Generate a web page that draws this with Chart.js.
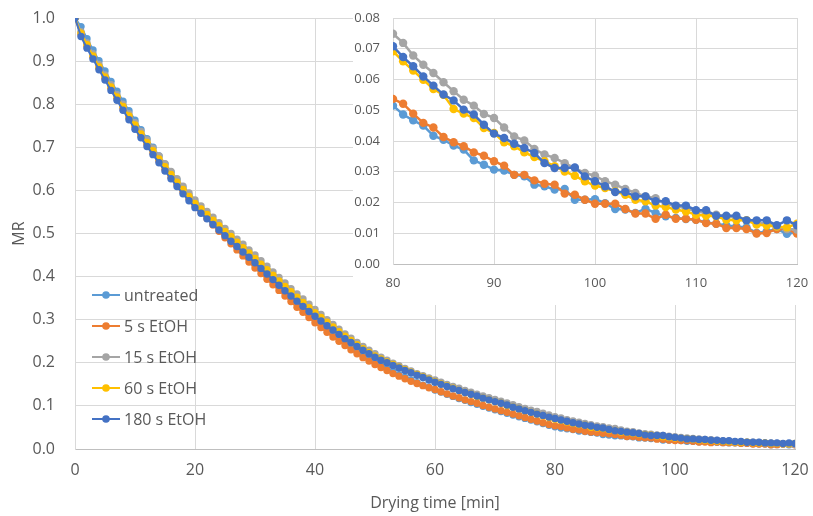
<!DOCTYPE html>
<html><head><meta charset="utf-8">
<script src="https://cdn.jsdelivr.net/npm/chart.js@4.4.0/dist/chart.umd.min.js"></script>
<style>
html,body{margin:0;padding:0;background:#fff;}
#wrap{position:relative;width:813px;height:516px;overflow:hidden;}
#main{position:absolute;left:0;top:0;width:813px;height:516px;}
#insetBox{position:absolute;left:353px;top:0;width:460px;height:305px;background:#fff;}
#inset{width:460px;height:305px;}
</style></head><body>
<div id="wrap">
<canvas id="main" width="813" height="516"></canvas>
<div id="insetBox"><canvas id="inset" width="460" height="305"></canvas></div>
</div>
<script>
const minutes = [0,1,2,3,4,5,6,7,8,9,10,11,12,13,14,15,16,17,18,19,20,21,22,23,24,25,26,27,28,29,30,31,32,33,34,35,36,37,38,39,40,41,42,43,44,45,46,47,48,49,50,51,52,53,54,55,56,57,58,59,60,61,62,63,64,65,66,67,68,69,70,71,72,73,74,75,76,77,78,79,80,81,82,83,84,85,86,87,88,89,90,91,92,93,94,95,96,97,98,99,100,101,102,103,104,105,106,107,108,109,110,111,112,113,114,115,116,117,118,119,120];

const seriesNames = ['untreated','5 s EtOH','15 s EtOH','60 s EtOH','180 s EtOH'];
const seriesColors = ['#5B9BD5','#ED7D31','#A5A5A5','#FFC000','#4472C4'];

const untreated = [
1.000,0.980,0.952,0.926,0.901,0.877,0.853,0.830,0.807,0.785,
0.763,0.741,0.720,0.700,0.680,0.661,0.642,0.624,0.606,0.589,
0.572,0.556,0.541,0.526,0.511,0.497,0.483,0.469,0.456,0.442,
0.429,0.416,0.403,0.390,0.377,0.364,0.351,0.339,0.326,0.314,
0.302,0.290,0.279,0.268,0.257,0.247,0.237,0.228,0.219,0.210,
0.202,0.194,0.186,0.179,0.172,0.166,0.160,0.154,0.148,0.143,
0.137,0.132,0.127,0.122,0.117,0.113,0.108,0.104,0.099,0.095,
0.091,0.087,0.083,0.079,0.075,0.071,0.067,0.063,0.059,0.055,
0.0515,0.0486,0.0467,0.0450,0.0417,0.0404,0.0385,0.0372,0.0337,0.0323,
0.0307,0.0304,0.0290,0.0285,0.0258,0.0253,0.0242,0.0244,0.0209,0.0209,
0.0211,0.0198,0.0179,0.0177,0.0166,0.0179,0.0166,0.0155,0.0150,0.0146,
0.0144,0.0135,0.0131,0.0125,0.0122,0.0119,0.0101,0.0106,0.0114,0.0098,
0.0103];

const etoh5 = [
1.000,0.962,0.935,0.909,0.884,0.860,0.837,0.814,0.791,0.769,
0.748,0.727,0.707,0.687,0.668,0.649,0.631,0.614,0.597,0.581,
0.565,0.550,0.535,0.520,0.505,0.490,0.476,0.462,0.448,0.434,
0.420,0.407,0.394,0.381,0.368,0.355,0.342,0.329,0.317,0.305,
0.293,0.282,0.271,0.260,0.250,0.240,0.230,0.221,0.212,0.204,
0.196,0.189,0.182,0.175,0.169,0.163,0.157,0.152,0.147,0.142,
0.138,0.133,0.128,0.123,0.119,0.114,0.110,0.106,0.101,0.097,
0.093,0.089,0.085,0.081,0.077,0.073,0.069,0.065,0.061,0.057,
0.0537,0.0521,0.0489,0.0459,0.0444,0.0413,0.0396,0.0383,0.0363,0.0352,
0.0334,0.0320,0.0290,0.0290,0.0272,0.0261,0.0258,0.0229,0.0225,0.0209,
0.0196,0.0196,0.0196,0.0179,0.0164,0.0164,0.0147,0.0160,0.0147,0.0147,
0.0144,0.0133,0.0131,0.0117,0.0117,0.0114,0.0099,0.0101,0.0114,0.0114,
0.0099];

const etoh15 = [
1.000,0.968,0.942,0.917,0.892,0.868,0.845,0.822,0.800,0.778,
0.757,0.737,0.717,0.698,0.680,0.662,0.644,0.627,0.610,0.594,
0.578,0.564,0.551,0.538,0.525,0.512,0.500,0.487,0.475,0.462,
0.450,0.437,0.424,0.411,0.398,0.385,0.372,0.360,0.348,0.336,
0.324,0.312,0.300,0.289,0.278,0.267,0.257,0.247,0.238,0.229,
0.221,0.213,0.206,0.199,0.193,0.187,0.181,0.175,0.170,0.165,
0.160,0.155,0.150,0.145,0.141,0.136,0.132,0.127,0.123,0.119,
0.115,0.111,0.107,0.103,0.098,0.094,0.090,0.087,0.083,0.079,
0.0749,0.0719,0.0678,0.0648,0.0621,0.0591,0.0562,0.0534,0.0515,0.0488,
0.0475,0.0444,0.0415,0.0402,0.0374,0.0356,0.0345,0.0328,0.0312,0.0296,
0.0287,0.0269,0.0258,0.0244,0.0231,0.0220,0.0214,0.0196,0.0188,0.0182,
0.0171,0.0166,0.0160,0.0155,0.0150,0.0142,0.0135,0.0131,0.0122,0.0114,
0.0112];

const etoh60 = [
1.000,0.965,0.938,0.912,0.887,0.863,0.840,0.817,0.795,0.773,
0.752,0.731,0.711,0.692,0.673,0.655,0.637,0.619,0.602,0.586,
0.570,0.557,0.544,0.531,0.518,0.505,0.493,0.480,0.467,0.455,
0.442,0.429,0.416,0.403,0.390,0.377,0.365,0.352,0.340,0.328,
0.316,0.305,0.294,0.283,0.272,0.262,0.252,0.242,0.233,0.224,
0.216,0.209,0.202,0.196,0.190,0.184,0.178,0.173,0.167,0.162,
0.156,0.151,0.146,0.141,0.136,0.131,0.127,0.122,0.118,0.114,
0.110,0.106,0.101,0.097,0.093,0.089,0.085,0.081,0.077,0.073,
0.0692,0.0659,0.0629,0.0599,0.0569,0.0550,0.0504,0.0489,0.0475,0.0442,
0.0426,0.0396,0.0383,0.0363,0.0348,0.0334,0.0318,0.0301,0.0287,0.0269,
0.0255,0.0247,0.0236,0.0225,0.0209,0.0204,0.0190,0.0185,0.0177,0.0171,
0.0160,0.0157,0.0155,0.0144,0.0142,0.0142,0.0128,0.0125,0.0122,0.0119,
0.0131];

const etoh180 = [
1.000,0.957,0.930,0.905,0.880,0.856,0.832,0.809,0.786,0.764,
0.742,0.722,0.702,0.683,0.664,0.645,0.627,0.609,0.592,0.576,
0.560,0.547,0.534,0.521,0.508,0.495,0.482,0.470,0.457,0.445,
0.432,0.419,0.406,0.393,0.380,0.367,0.355,0.343,0.331,0.319,
0.308,0.297,0.286,0.276,0.266,0.256,0.247,0.238,0.229,0.221,
0.213,0.206,0.200,0.194,0.188,0.182,0.177,0.171,0.166,0.160,
0.155,0.150,0.145,0.140,0.136,0.131,0.127,0.123,0.118,0.114,
0.110,0.106,0.102,0.097,0.093,0.089,0.085,0.081,0.078,0.074,
0.0708,0.0673,0.0643,0.0610,0.0580,0.0551,0.0532,0.0502,0.0486,0.0453,
0.0424,0.0410,0.0391,0.0377,0.0361,0.0328,0.0312,0.0312,0.0314,0.0285,
0.0269,0.0253,0.0234,0.0234,0.0220,0.0220,0.0204,0.0204,0.0190,0.0190,
0.0175,0.0175,0.0157,0.0157,0.0157,0.0142,0.0142,0.0142,0.0126,0.0142,
0.0126];

const mainXTicks = [0,20,40,60,80,100,120];
const mainYTicks = [0,0.1,0.2,0.3,0.4,0.5,0.6,0.7,0.8,0.9,1.0];
const insetXTicks = [80,90,100,110,120];
const insetYTicks = [0,0.01,0.02,0.03,0.04,0.05,0.06,0.07,0.08];
const insetStart = 80;

const allSeries = [untreated, etoh5, etoh15, etoh60, etoh180];

const FONT = "'Open Sans', sans-serif";
const TXT = '#595959';
const GRID = '#d9d9d9';

function points(values, fromMinute) {
  const out = [];
  for (let i = 0; i < minutes.length; i++) {
    if (minutes[i] >= fromMinute) out.push({x: minutes[i], y: values[i]});
  }
  return out;
}

function makeDatasets(fromMinute, radius, lw) {
  return allSeries.map((vals, i) => ({
    label: seriesNames[i],
    data: points(vals, fromMinute),
    borderColor: seriesColors[i],
    backgroundColor: seriesColors[i],
    borderWidth: lw,
    pointRadius: radius,
    pointHoverRadius: radius,
    pointBorderWidth: 0,
    pointBackgroundColor: seriesColors[i],
    order: allSeries.length - i,
    tension: 0
  }));
}

function fixX(h) { return s => { s.height = h; s.paddingLeft = 0; s.paddingRight = 0; }; }
function fixY(w) { return s => { s.width = w; s.paddingTop = 0; s.paddingBottom = 0; }; }

const legendPlugin = {
  id: 'insideLegend',
  afterDatasetsDraw(chart) {
    const ctx = chart.ctx;
    const a = chart.chartArea;
    const x0 = a.left + 17, x1 = a.left + 45, xc = a.left + 31, xt = a.left + 49;
    const y0 = 295, dy = 31;
    ctx.save();
    ctx.font = "16px " + FONT;
    ctx.textBaseline = 'middle';
    ctx.textAlign = 'left';
    seriesNames.forEach((name, i) => {
      const y = y0 + i * dy;
      ctx.strokeStyle = seriesColors[i];
      ctx.lineWidth = 2;
      ctx.beginPath(); ctx.moveTo(x0, y); ctx.lineTo(x1, y); ctx.stroke();
      ctx.fillStyle = seriesColors[i];
      ctx.beginPath(); ctx.arc(xc, y, 3.8, 0, Math.PI * 2); ctx.fill();
      ctx.fillStyle = TXT;
      ctx.fillText(name, xt, y + 1);
    });
    ctx.restore();
  }
};

new Chart(document.getElementById('main'), {
  type: 'line',
  data: { datasets: makeDatasets(0, 3.7, 2) },
  options: {
    responsive: false, animation: false, events: [],
    layout: { padding: { left: 0, right: 18, top: 18, bottom: 0 } },
    plugins: { legend: { display: false }, tooltip: { enabled: false } },
    scales: {
      x: {
        type: 'linear', min: 0, max: 120,
        afterBuildTicks: s => { s.ticks = mainXTicks.map(v => ({value: v})); },
        ticks: { color: TXT, font: { family: FONT, size: 16 }, padding: 12, maxRotation: 0 },
        grid: { color: GRID, lineWidth: 1, drawTicks: false },
        border: { color: '#bfbfbf' },
        title: { display: true, text: 'Drying time [min]', color: TXT, font: { family: FONT, size: 16 }, padding: { top: 0, bottom: 3 } },
        afterFit: fixX(67)
      },
      y: {
        type: 'linear', min: 0, max: 1,
        afterBuildTicks: s => { s.ticks = mainYTicks.map(v => ({value: v})); },
        ticks: { color: TXT, font: { family: FONT, size: 16 }, padding: 20, callback: v => v.toFixed(1) },
        grid: { color: GRID, lineWidth: 1, drawTicks: false },
        border: { color: GRID },
        title: { display: true, text: 'MR', color: TXT, font: { family: FONT, size: 16 }, padding: { top: 10, bottom: 0 } },
        afterFit: fixY(75)
      }
    }
  },
  plugins: [legendPlugin]
});

new Chart(document.getElementById('inset'), {
  type: 'line',
  data: { datasets: makeDatasets(insetStart, 4.2, 2.5) },
  options: {
    responsive: false, animation: false, events: [],
    layout: { padding: { left: 0, right: 16, top: 18, bottom: 0 } },
    plugins: { legend: { display: false }, tooltip: { enabled: false } },
    scales: {
      x: {
        type: 'linear', min: 80, max: 120,
        afterBuildTicks: s => { s.ticks = insetXTicks.map(v => ({value: v})); },
        ticks: { color: TXT, font: { family: FONT, size: 13 }, padding: 11, maxRotation: 0 },
        grid: { color: GRID, lineWidth: 1, drawTicks: false },
        border: { color: '#bfbfbf' },
        afterFit: fixX(41)
      },
      y: {
        type: 'linear', min: 0, max: 0.08,
        afterBuildTicks: s => { s.ticks = insetYTicks.map(v => ({value: v})); },
        ticks: { color: TXT, font: { family: FONT, size: 13 }, padding: 13, callback: v => v.toFixed(2) },
        grid: { color: GRID, lineWidth: 1, drawTicks: false },
        border: { color: GRID },
        afterFit: fixY(40)
      }
    }
  }
});
</script>
</body></html>
